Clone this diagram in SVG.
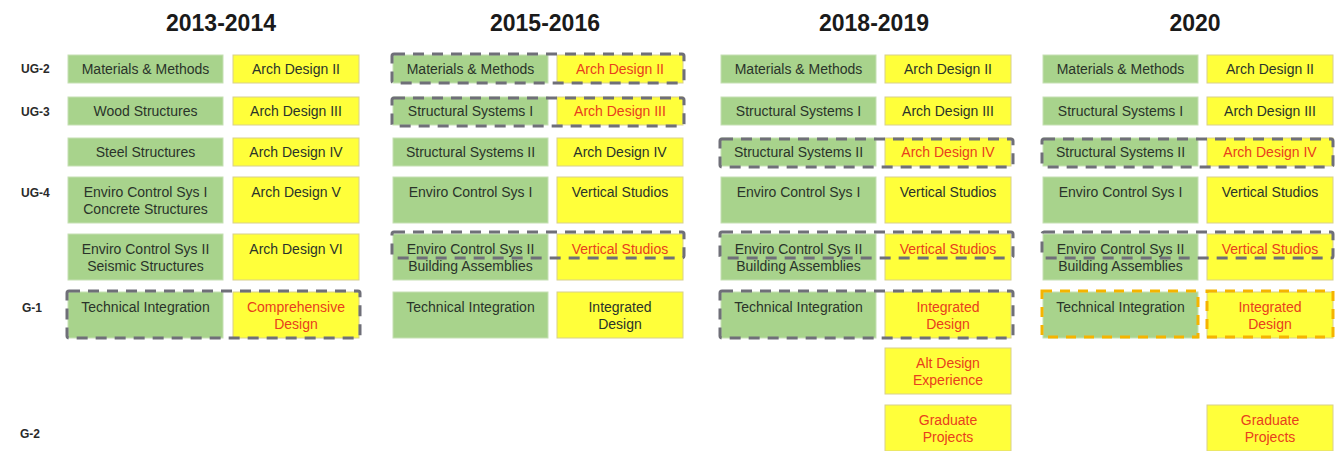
<svg xmlns="http://www.w3.org/2000/svg" width="1336" height="451" viewBox="0 0 1336 451">
<style>
.bg{fill:#ffffff}
.g{fill:#a8d38c;stroke:#c6e0b4;stroke-width:1}
.y{fill:#ffff3a;stroke:#d8d08c;stroke-width:1}
.t{font-family:"Liberation Sans",Arial,sans-serif;font-size:14px;fill:#2a332a;text-anchor:middle}
.r{fill:#e8401c}
.h{font-family:"Liberation Sans",Arial,sans-serif;font-size:23px;font-weight:bold;fill:#1a1a1a;text-anchor:middle}
.l{font-family:"Liberation Sans",Arial,sans-serif;font-size:12px;font-weight:bold;fill:#2a2a2a}
.dg{fill:none;stroke:#6f6f78;stroke-width:3;stroke-dasharray:11 8}
.do{fill:none;stroke:#f5b400;stroke-width:3;stroke-dasharray:10 8}
</style>
<rect class="bg" x="0" y="0" width="1336" height="451"/>

<g id="headings">
<text class="h" x="221" y="31">2013-2014</text>
<text class="h" x="545" y="31">2015-2016</text>
<text class="h" x="874" y="31">2018-2019</text>
<text class="h" x="1195" y="31">2020</text>
</g>

<g id="row-labels">
<text class="l" x="21" y="73">UG-2</text>
<text class="l" x="21" y="116">UG-3</text>
<text class="l" x="21" y="197">UG-4</text>
<text class="l" x="22" y="312">G-1</text>
<text class="l" x="20" y="438">G-2</text>
</g>

<!-- Column 1: 2013-2014 -->
<g id="c1-mm"><rect class="g" x="68" y="55" width="155" height="28"/><text class="t" x="145.5" y="74">Materials &amp; Methods</text></g>
<g id="c1-ad2"><rect class="y" x="233" y="55" width="126" height="28"/><text class="t" x="296" y="74">Arch Design II</text></g>
<g id="c1-wood"><rect class="g" x="68" y="97" width="155" height="28"/><text class="t" x="145.5" y="116">Wood Structures</text></g>
<g id="c1-ad3"><rect class="y" x="233" y="97" width="126" height="28"/><text class="t" x="296" y="116">Arch Design III</text></g>
<g id="c1-steel"><rect class="g" x="68" y="138" width="155" height="28"/><text class="t" x="145.5" y="157">Steel Structures</text></g>
<g id="c1-ad4"><rect class="y" x="233" y="138" width="126" height="28"/><text class="t" x="296" y="157">Arch Design IV</text></g>
<g id="c1-ecs1"><rect class="g" x="68" y="177" width="155" height="46"/><text class="t" x="145.5" y="197">Enviro Control Sys I</text><text class="t" x="145.5" y="214">Concrete Structures</text></g>
<g id="c1-ad5"><rect class="y" x="233" y="177" width="126" height="46"/><text class="t" x="296" y="197">Arch Design V</text></g>
<g id="c1-ecs2"><rect class="g" x="68" y="234" width="155" height="46"/><text class="t" x="145.5" y="254">Enviro Control Sys II</text><text class="t" x="145.5" y="271">Seismic Structures</text></g>
<g id="c1-ad6"><rect class="y" x="233" y="234" width="126" height="46"/><text class="t" x="296" y="254">Arch Design VI</text></g>
<g id="c1-ti"><rect class="g" x="68" y="292" width="155" height="46"/><text class="t" x="145.5" y="312">Technical Integration</text></g>
<g id="c1-cd"><rect class="y" x="233" y="292" width="126" height="46"/><text class="t r" x="296" y="312">Comprehensive</text><text class="t r" x="296" y="329">Design</text></g>

<!-- Column 2: 2015-2016 -->
<g id="c2-mm"><rect class="g" x="393" y="55" width="155" height="28"/><text class="t" x="470.5" y="74">Materials &amp; Methods</text></g>
<g id="c2-ad2"><rect class="y" x="557" y="55" width="126" height="28"/><text class="t r" x="620" y="74">Arch Design II</text></g>
<g id="c2-ss1"><rect class="g" x="393" y="97" width="155" height="28"/><text class="t" x="470.5" y="116">Structural Systems I</text></g>
<g id="c2-ad3"><rect class="y" x="557" y="97" width="126" height="28"/><text class="t r" x="620" y="116">Arch Design III</text></g>
<g id="c2-ss2"><rect class="g" x="393" y="138" width="155" height="28"/><text class="t" x="470.5" y="157">Structural Systems II</text></g>
<g id="c2-ad4"><rect class="y" x="557" y="138" width="126" height="28"/><text class="t" x="620" y="157">Arch Design IV</text></g>
<g id="c2-ecs1"><rect class="g" x="393" y="177" width="155" height="46"/><text class="t" x="470.5" y="197">Enviro Control Sys I</text></g>
<g id="c2-vs1"><rect class="y" x="557" y="177" width="126" height="46"/><text class="t" x="620" y="197">Vertical Studios</text></g>
<g id="c2-ecs2"><rect class="g" x="393" y="234" width="155" height="46"/><text class="t" x="470.5" y="254">Enviro Control Sys II</text><text class="t" x="470.5" y="271">Building Assemblies</text></g>
<g id="c2-vs2"><rect class="y" x="557" y="234" width="126" height="46"/><text class="t r" x="620" y="254">Vertical Studios</text></g>
<g id="c2-ti"><rect class="g" x="393" y="292" width="155" height="46"/><text class="t" x="470.5" y="312">Technical Integration</text></g>
<g id="c2-id"><rect class="y" x="557" y="292" width="126" height="46"/><text class="t" x="620" y="312">Integrated</text><text class="t" x="620" y="329">Design</text></g>

<!-- Column 3: 2018-2019 -->
<g id="c3-mm"><rect class="g" x="721" y="55" width="155" height="28"/><text class="t" x="798.5" y="74">Materials &amp; Methods</text></g>
<g id="c3-ad2"><rect class="y" x="885" y="55" width="126" height="28"/><text class="t" x="948" y="74">Arch Design II</text></g>
<g id="c3-ss1"><rect class="g" x="721" y="97" width="155" height="28"/><text class="t" x="798.5" y="116">Structural Systems I</text></g>
<g id="c3-ad3"><rect class="y" x="885" y="97" width="126" height="28"/><text class="t" x="948" y="116">Arch Design III</text></g>
<g id="c3-ss2"><rect class="g" x="721" y="138" width="155" height="28"/><text class="t" x="798.5" y="157">Structural Systems II</text></g>
<g id="c3-ad4"><rect class="y" x="885" y="138" width="126" height="28"/><text class="t r" x="948" y="157">Arch Design IV</text></g>
<g id="c3-ecs1"><rect class="g" x="721" y="177" width="155" height="46"/><text class="t" x="798.5" y="197">Enviro Control Sys I</text></g>
<g id="c3-vs1"><rect class="y" x="885" y="177" width="126" height="46"/><text class="t" x="948" y="197">Vertical Studios</text></g>
<g id="c3-ecs2"><rect class="g" x="721" y="234" width="155" height="46"/><text class="t" x="798.5" y="254">Enviro Control Sys II</text><text class="t" x="798.5" y="271">Building Assemblies</text></g>
<g id="c3-vs2"><rect class="y" x="885" y="234" width="126" height="46"/><text class="t r" x="948" y="254">Vertical Studios</text></g>
<g id="c3-ti"><rect class="g" x="721" y="292" width="155" height="46"/><text class="t" x="798.5" y="312">Technical Integration</text></g>
<g id="c3-id"><rect class="y" x="885" y="292" width="126" height="46"/><text class="t r" x="948" y="312">Integrated</text><text class="t r" x="948" y="329">Design</text></g>
<g id="c3-alt"><rect class="y" x="885" y="348" width="126" height="46"/><text class="t r" x="948" y="368">Alt Design</text><text class="t r" x="948" y="385">Experience</text></g>
<g id="c3-gp"><rect class="y" x="885" y="405" width="126" height="46"/><text class="t r" x="948" y="425">Graduate</text><text class="t r" x="948" y="442">Projects</text></g>

<!-- Column 4: 2020 -->
<g id="c4-mm"><rect class="g" x="1043" y="55" width="155" height="28"/><text class="t" x="1120.5" y="74">Materials &amp; Methods</text></g>
<g id="c4-ad2"><rect class="y" x="1207" y="55" width="126" height="28"/><text class="t" x="1270" y="74">Arch Design II</text></g>
<g id="c4-ss1"><rect class="g" x="1043" y="97" width="155" height="28"/><text class="t" x="1120.5" y="116">Structural Systems I</text></g>
<g id="c4-ad3"><rect class="y" x="1207" y="97" width="126" height="28"/><text class="t" x="1270" y="116">Arch Design III</text></g>
<g id="c4-ss2"><rect class="g" x="1043" y="138" width="155" height="28"/><text class="t" x="1120.5" y="157">Structural Systems II</text></g>
<g id="c4-ad4"><rect class="y" x="1207" y="138" width="126" height="28"/><text class="t r" x="1270" y="157">Arch Design IV</text></g>
<g id="c4-ecs1"><rect class="g" x="1043" y="177" width="155" height="46"/><text class="t" x="1120.5" y="197">Enviro Control Sys I</text></g>
<g id="c4-vs1"><rect class="y" x="1207" y="177" width="126" height="46"/><text class="t" x="1270" y="197">Vertical Studios</text></g>
<g id="c4-ecs2"><rect class="g" x="1043" y="234" width="155" height="46"/><text class="t" x="1120.5" y="254">Enviro Control Sys II</text><text class="t" x="1120.5" y="271">Building Assemblies</text></g>
<g id="c4-vs2"><rect class="y" x="1207" y="234" width="126" height="46"/><text class="t r" x="1270" y="254">Vertical Studios</text></g>
<g id="c4-ti"><rect class="g" x="1043" y="292" width="155" height="46"/><text class="t" x="1120.5" y="312">Technical Integration</text></g>
<g id="c4-id"><rect class="y" x="1207" y="292" width="126" height="46"/><text class="t r" x="1270" y="312">Integrated</text><text class="t r" x="1270" y="329">Design</text></g>
<g id="c4-gp"><rect class="y" x="1207" y="405" width="126" height="46"/><text class="t r" x="1270" y="425">Graduate</text><text class="t r" x="1270" y="442">Projects</text></g>

<g id="highlights">
<rect class="dg" x="67" y="291" width="293" height="47" rx="2"/>
<rect class="dg" x="392" y="54" width="292" height="29" rx="2"/>
<rect class="dg" x="392" y="98" width="292" height="28" rx="2"/>
<rect class="dg" x="392" y="232" width="292" height="26" rx="2"/>
<rect class="dg" x="720" y="139" width="293" height="28" rx="2"/>
<rect class="dg" x="720" y="232" width="293" height="26" rx="2"/>
<rect class="dg" x="720" y="291" width="293" height="47" rx="2"/>
<rect class="dg" x="1042" y="139" width="291" height="28" rx="2"/>
<rect class="dg" x="1042" y="232" width="291" height="26" rx="2"/>
<rect class="do" x="1042" y="291" width="156" height="46"/>
<rect class="do" x="1207" y="291" width="126" height="46"/>
</g>
</svg>
